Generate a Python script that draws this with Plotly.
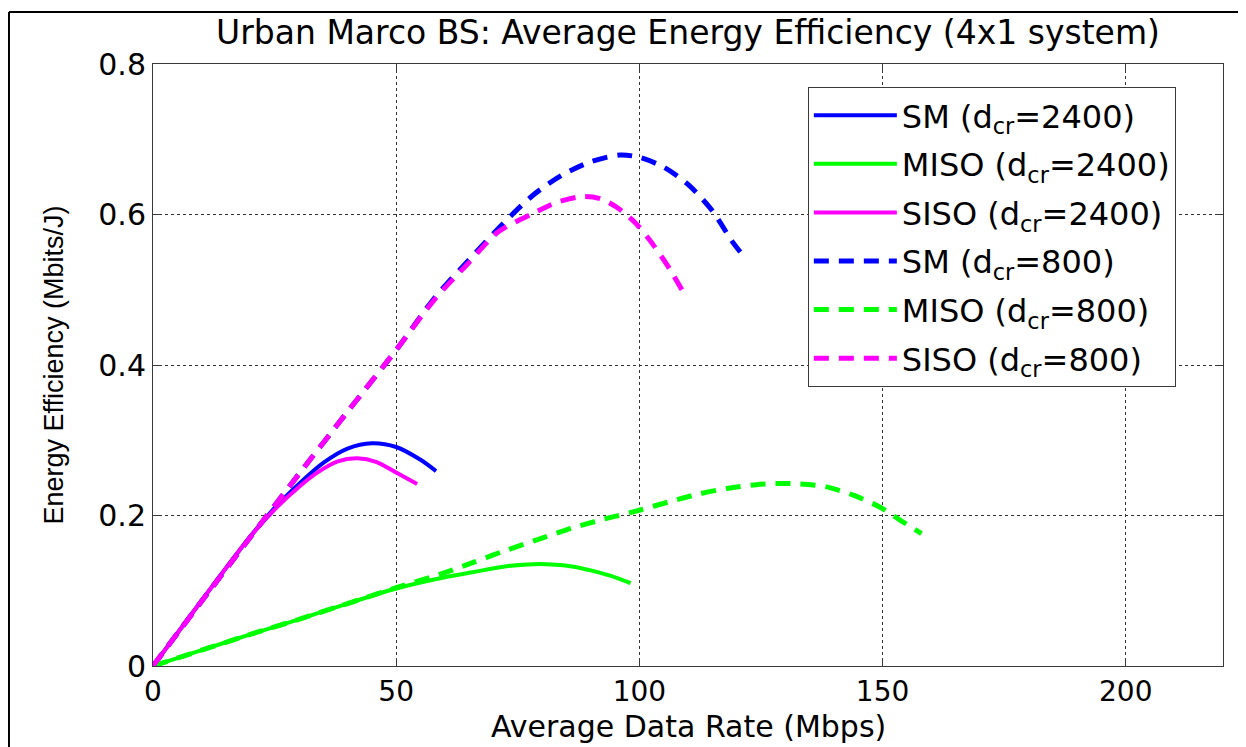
import plotly.graph_objects as go

# ---- data ----
sm_2400_x = [0, 10, 20, 25, 30, 35, 40, 45, 50, 55, 58.2]
sm_2400_y = [0, 0.087, 0.172, 0.21, 0.242, 0.270, 0.289, 0.296, 0.291, 0.274, 0.259]

miso_2400_x = [0, 10, 20, 30, 40, 50, 60, 66, 72, 77, 82, 86.5, 90, 94, 98.2]
miso_2400_y = [0, 0.021, 0.042, 0.062, 0.083, 0.103, 0.118, 0.125, 0.132, 0.135, 0.135, 0.132, 0.127, 0.120, 0.110]

siso_2400_x = [0, 10, 20, 25, 30, 34, 38, 42, 46, 50, 54.3]
siso_2400_y = [0, 0.087, 0.172, 0.208, 0.238, 0.258, 0.272, 0.276, 0.271, 0.257, 0.242]

sm_800_x = [0, 10, 20, 30, 40, 50, 58, 65, 72, 78, 84, 90, 96, 100, 105, 110, 115, 119, 122]
sm_800_y = [0, 0.086, 0.171, 0.255, 0.338, 0.42, 0.49, 0.54, 0.588, 0.625, 0.652, 0.670, 0.679,
            0.676, 0.663, 0.640, 0.605, 0.565, 0.54]

miso_800_x = [0, 10, 20, 30, 40, 50, 60, 66, 72.7, 80, 86, 92, 100, 106, 112.5, 118, 124, 128,
              133, 138.5, 144, 149.5, 153.6, 158]
miso_800_y = [0, 0.021, 0.042, 0.062, 0.083, 0.104, 0.124, 0.138, 0.154, 0.17, 0.183, 0.194, 0.207,
              0.218, 0.229, 0.236, 0.241, 0.2425, 0.242, 0.238, 0.227, 0.211, 0.194, 0.176]

siso_800_x = [0, 10, 20, 30, 40, 50, 58, 64.5, 71, 78, 83, 88.5, 92, 95.5, 99, 102, 105.5, 109]
siso_800_y = [0, 0.086, 0.171, 0.255, 0.338, 0.42, 0.488, 0.533, 0.577, 0.601, 0.616, 0.624, 0.621,
              0.609, 0.590, 0.567, 0.535, 0.497]

x_ticks = [0, 50, 100, 150, 200]
y_ticks = [0, 0.2, 0.4, 0.6, 0.8]
y_tick_labels = ["0", "0.2", "0.4", "0.6", "0.8"]

BLUE = "#0000ff"
GREEN = "#00ff00"
MAGENTA = "#ff00ff"
DASH = "15px,10px"

series = [
    ("SM (d<sub>cr</sub>=2400)", sm_2400_x, sm_2400_y, BLUE, "solid", 4),
    ("MISO (d<sub>cr</sub>=2400)", miso_2400_x, miso_2400_y, GREEN, "solid", 4),
    ("SISO (d<sub>cr</sub>=2400)", siso_2400_x, siso_2400_y, MAGENTA, "solid", 4),
    ("SM (d<sub>cr</sub>=800)", sm_800_x, sm_800_y, BLUE, DASH, 5),
    ("MISO (d<sub>cr</sub>=800)", miso_800_x, miso_800_y, GREEN, DASH, 5),
    ("SISO (d<sub>cr</sub>=800)", siso_800_x, siso_800_y, MAGENTA, DASH, 5),
]

WIDE = "DejaVu Sans, Verdana, sans-serif"
NARROW = "Liberation Sans, Arial, Helvetica, sans-serif"

fig = go.Figure()
for i, (name, xs, ys, col, dash, w) in enumerate(series):
    fig.add_trace(go.Scatter(
        x=xs, y=ys, mode="lines", name=name, legendgroup=str(i),
        line=dict(color=col, width=w, dash=dash, shape="spline", smoothing=0.8),
    ))

axis_common = dict(
    showline=True, linecolor="#3a3a3a", linewidth=1, mirror="ticks",
    ticks="inside", ticklen=8, tickcolor="#3a3a3a", tickwidth=1,
    showgrid=True, gridcolor="#333333", gridwidth=1, griddash="dot",
    zeroline=False,
)

# page body has an 8px margin: figure is offset by 8px, so size/margins compensate
fig.update_layout(
    width=1238, height=739,
    paper_bgcolor="white", plot_bgcolor="white",
    margin=dict(l=145, r=23, t=56, b=81, autoexpand=False),
    title=dict(text="Urban Marco BS: Average Energy Efficiency (4x1 system)",
               xref="paper", x=0.5, xanchor="center", y=0.967, yanchor="middle",
               font=dict(family=WIDE, size=33, color="black")),
    xaxis=dict(range=[0, 220], tickvals=x_ticks,
               tickfont=dict(family=WIDE, size=28, color="black"), **axis_common),
    yaxis=dict(range=[0, 0.8], tickvals=y_ticks, ticktext=y_tick_labels,
               tickfont=dict(family=WIDE, size=30, color="black"),
               title=dict(text="Energy Efficiency (Mbits/J)", standoff=26,
                          font=dict(family=NARROW, size=27, color="black")),
               **axis_common),
    legend=dict(x=0.612, y=0.962, xanchor="left", yanchor="top",
                bgcolor="white", bordercolor="#3a3a3a", borderwidth=1,
                font=dict(family=WIDE, size=32, color="black"),
                tracegroupgap=4, itemwidth=83, traceorder="grouped"),
    showlegend=True,
    annotations=[
        dict(text="Average Data Rate (Mbps)", xref="paper", yref="paper",
             x=0.5, y=-0.1, xanchor="center", yanchor="middle", showarrow=False,
             font=dict(family=WIDE, size=30, color="black")),
    ],
    shapes=[
        dict(type="line", xref="paper", yref="paper", x0=-0.1346, x1=-0.1346, y0=-0.2, y1=1.0864,
             line=dict(color="black", width=2)),
        dict(type="line", xref="paper", yref="paper", x0=-0.1346, x1=1.05, y0=1.0864, y1=1.0864,
             line=dict(color="black", width=2)),
    ],
)

fig.write_html("out.html")
